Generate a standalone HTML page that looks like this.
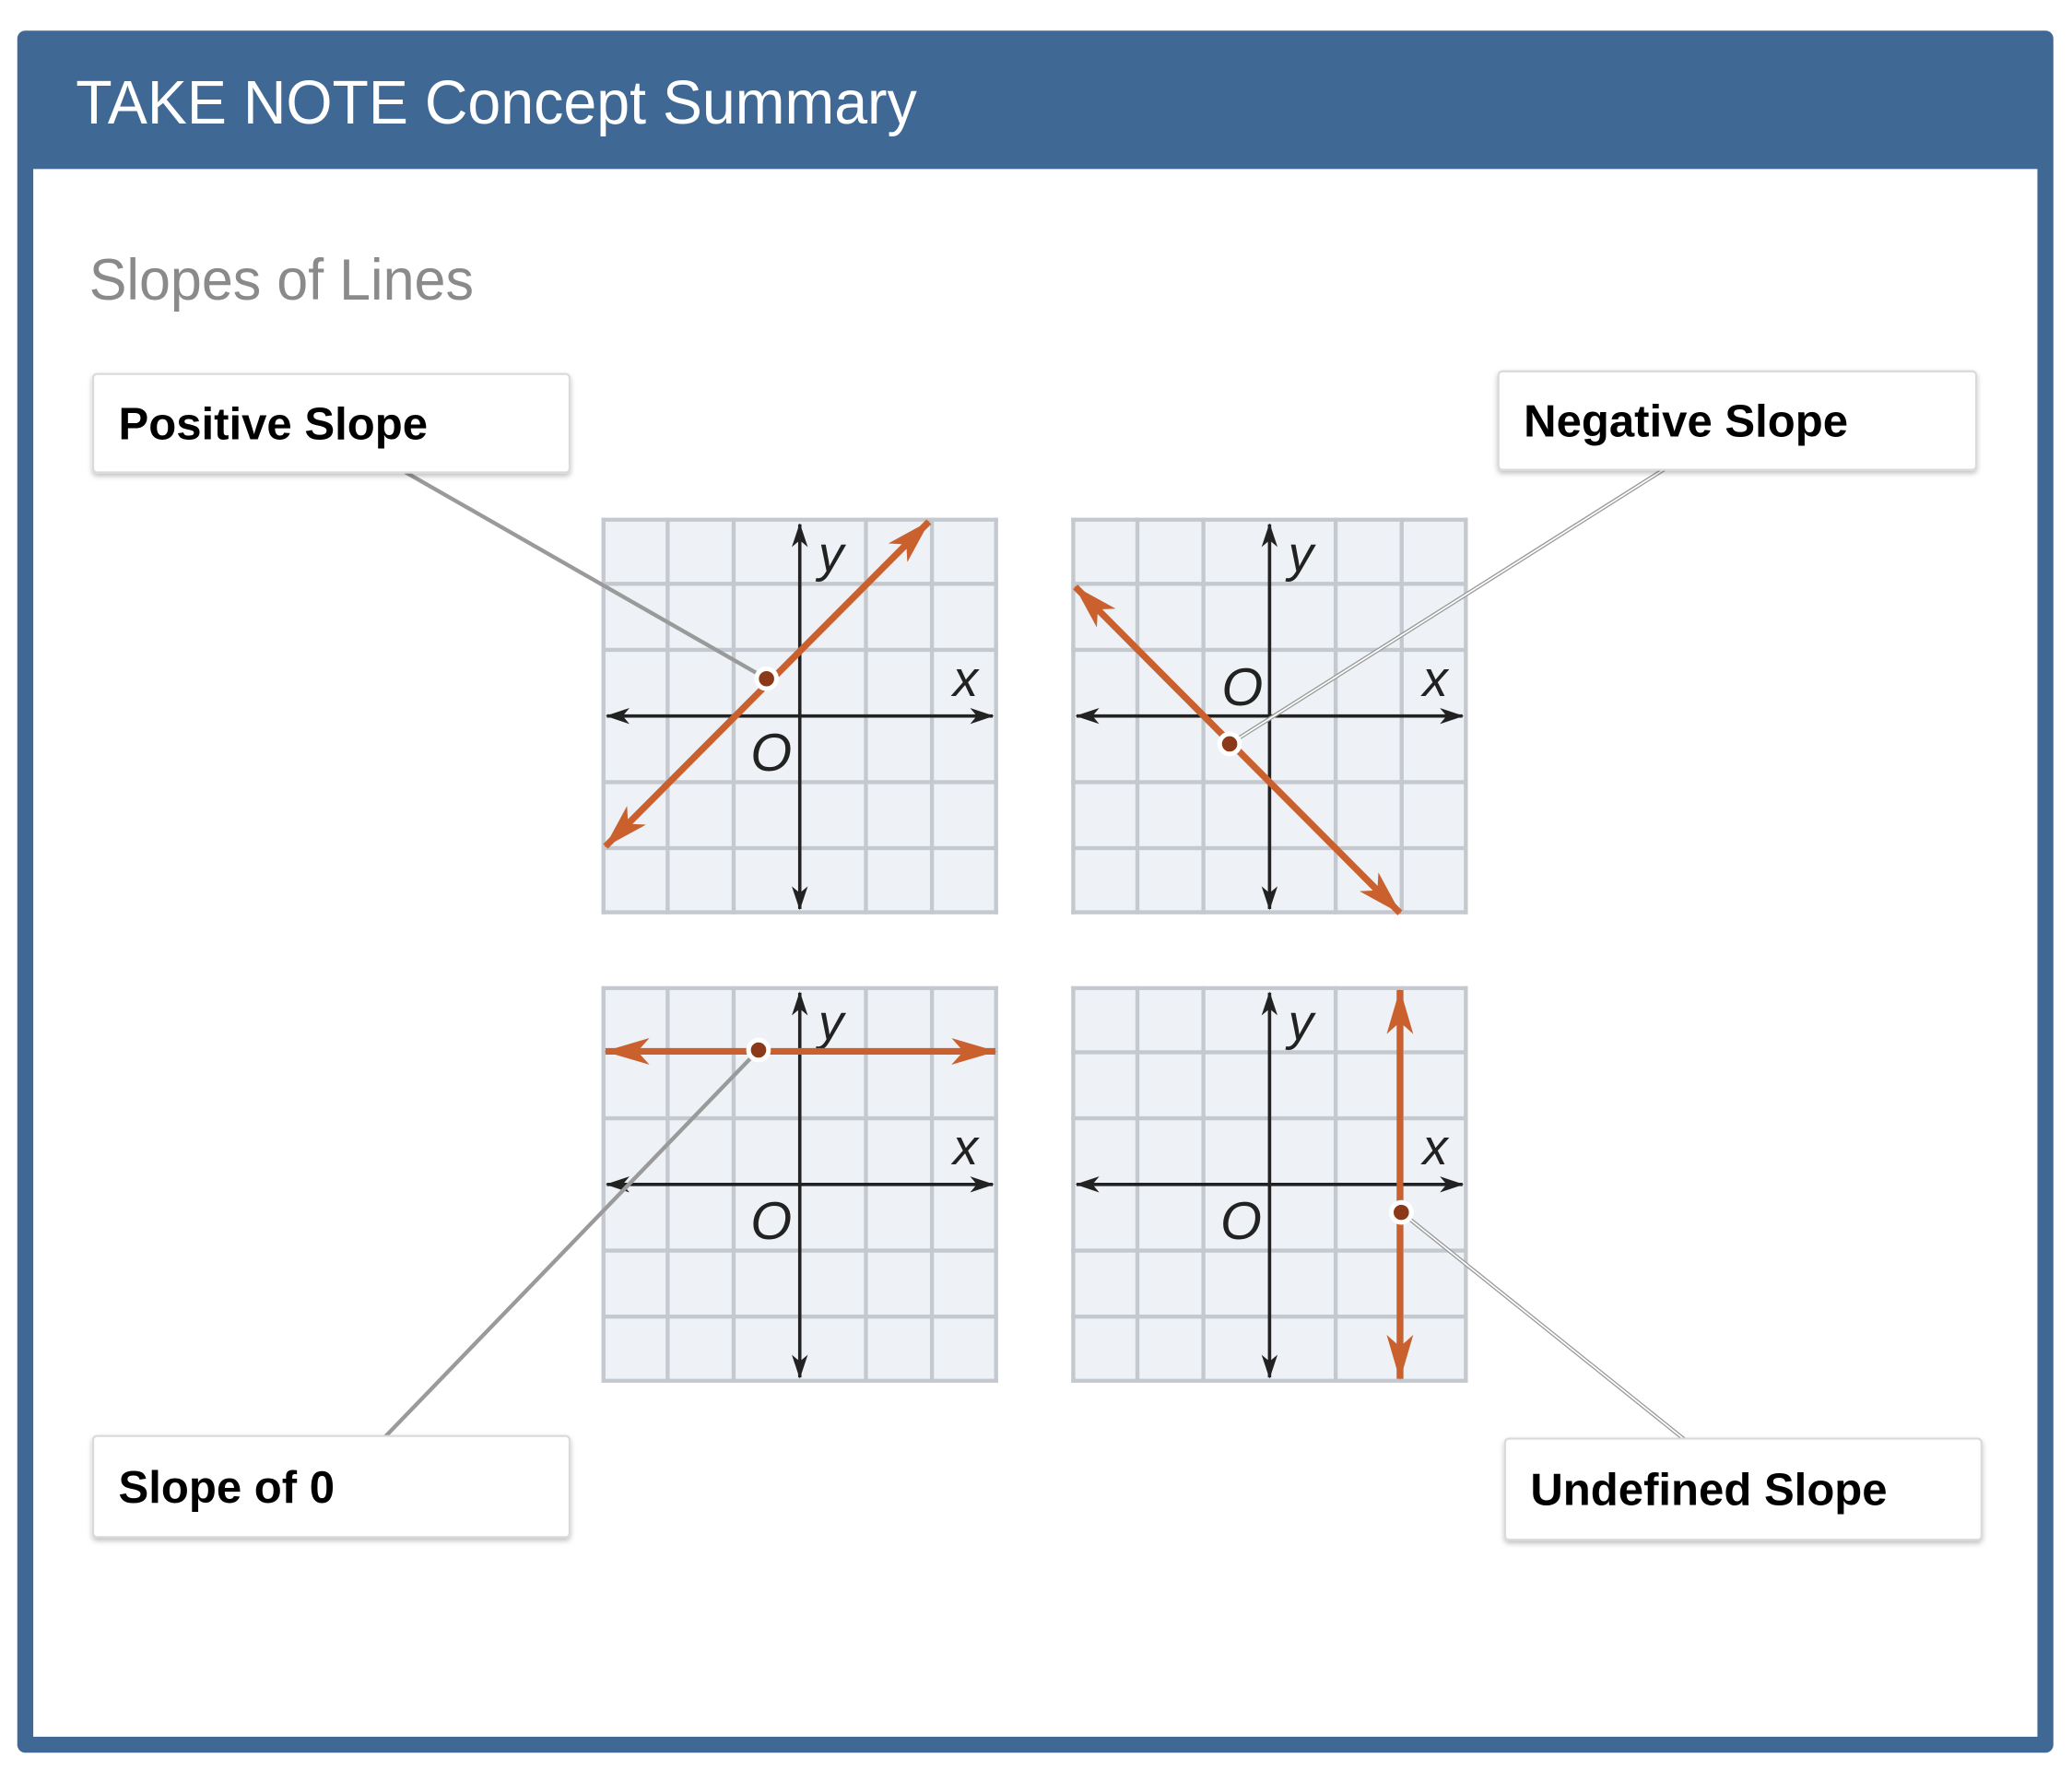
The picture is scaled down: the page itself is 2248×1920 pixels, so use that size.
<!DOCTYPE html>
<html><head><meta charset="utf-8"><style>
html,body{margin:0;padding:0;background:#fff;}
svg{display:block;}
</style></head><body>
<svg width="2248" height="1920" viewBox="0 0 1557 1330" preserveAspectRatio="none" xmlns="http://www.w3.org/2000/svg">
<defs>
<marker id="oa" viewBox="0 0 34 20" refX="33" refY="10" markerWidth="34" markerHeight="20" markerUnits="userSpaceOnUse" orient="auto-start-reverse">
<path d="M34,10 L0,0 L9,10 L0,20 Z" fill="#c9602e"/>
</marker>
<marker id="ba" viewBox="0 0 18 12" refX="17" refY="6" markerWidth="18" markerHeight="12" markerUnits="userSpaceOnUse" orient="auto-start-reverse">
<path d="M18,6 L0,0 L5,6 L0,12 Z" fill="#222"/>
</marker>
<filter id="sh" x="-5%" y="-10%" width="110%" height="130%">
<feDropShadow dx="0" dy="2" stdDeviation="2" flood-color="#000" flood-opacity="0.25"/>
</filter>
<g id="grid">
<rect x="0" y="0" width="298" height="298" fill="#eef1f5"/>
<g stroke="#c4c9cf" stroke-width="3">
<path d="M1.5,0V298M49.7,0V298M99.3,0V298M198.7,0V298M248.3,0V298M296.5,0V298"/>
<path d="M0,1.5H298M0,49.7H298M0,99.3H298M0,198.7H298M0,248.3H298M0,296.5H298"/>
</g>
<g stroke="#222" stroke-width="2.5" fill="none">
<line x1="149" y1="5" x2="149" y2="294" marker-start="url(#ba)" marker-end="url(#ba)"/>
<line x1="4" y1="149" x2="294" y2="149" marker-start="url(#ba)" marker-end="url(#ba)"/>
</g>
</g>
</defs>
<rect x="0" y="0" width="1557" height="1330" fill="#fff"/>
<rect x="13" y="23" width="1530" height="1294" rx="6" fill="#3f6895"/>
<rect x="25" y="127" width="1506" height="1178" fill="#fff"/>
<text x="57" y="93" font-family="Liberation Sans, sans-serif" font-size="46" fill="#fff" textLength="632" lengthAdjust="spacingAndGlyphs">TAKE NOTE Concept Summary</text>
<text x="67" y="225" font-family="Liberation Sans, sans-serif" font-size="44" fill="#8a8a8a" textLength="289" lengthAdjust="spacingAndGlyphs">Slopes of Lines</text>

<g transform="translate(452,389)">
<use href="#grid"/>
<text x="163" y="40" font-family="Liberation Sans, sans-serif" font-style="italic" font-size="38" fill="#222">y</text>
<text x="264" y="134" font-family="Liberation Sans, sans-serif" font-style="italic" font-size="38" fill="#222">x</text>
<text x="112" y="190" font-family="Liberation Sans, sans-serif" font-style="italic" font-size="40" fill="#222">O</text>
<line x1="3" y1="247" x2="246" y2="3" stroke="#c9602e" stroke-width="5" marker-start="url(#oa)" marker-end="url(#oa)"/>
</g>
<g transform="translate(805,389)">
<use href="#grid"/>
<text x="163" y="40" font-family="Liberation Sans, sans-serif" font-style="italic" font-size="38" fill="#222">y</text>
<text x="264" y="134" font-family="Liberation Sans, sans-serif" font-style="italic" font-size="38" fill="#222">x</text>
<text x="113" y="141" font-family="Liberation Sans, sans-serif" font-style="italic" font-size="40" fill="#222">O</text>
<line x1="3" y1="52" x2="247" y2="297" stroke="#c9602e" stroke-width="5" marker-start="url(#oa)" marker-end="url(#oa)"/>
</g>
<g transform="translate(452,741)">
<use href="#grid"/>
<text x="163" y="40" font-family="Liberation Sans, sans-serif" font-style="italic" font-size="38" fill="#222">y</text>
<text x="264" y="134" font-family="Liberation Sans, sans-serif" font-style="italic" font-size="38" fill="#222">x</text>
<text x="112" y="190" font-family="Liberation Sans, sans-serif" font-style="italic" font-size="40" fill="#222">O</text>
<line x1="3" y1="49" x2="296" y2="49" stroke="#c9602e" stroke-width="5" marker-start="url(#oa)" marker-end="url(#oa)"/>
</g>
<g transform="translate(805,741)">
<use href="#grid"/>
<text x="163" y="40" font-family="Liberation Sans, sans-serif" font-style="italic" font-size="38" fill="#222">y</text>
<text x="264" y="134" font-family="Liberation Sans, sans-serif" font-style="italic" font-size="38" fill="#222">x</text>
<text x="112" y="190" font-family="Liberation Sans, sans-serif" font-style="italic" font-size="40" fill="#222">O</text>
<line x1="247" y1="3" x2="247" y2="295" stroke="#c9602e" stroke-width="5" marker-start="url(#oa)" marker-end="url(#oa)"/>
</g>

<g fill="none" stroke-linecap="round">
<g stroke="#9a9a9a" stroke-width="3">
<line x1="305" y1="355" x2="576" y2="510"/>
<line x1="1250" y1="353" x2="924" y2="559"/>
<line x1="290" y1="1079" x2="570" y2="789"/>
<line x1="1265" y1="1081" x2="1053" y2="911"/>
</g>
<g stroke="#fff" stroke-width="1.2">
<line x1="1250" y1="353" x2="924" y2="559"/>
<line x1="1265" y1="1081" x2="1053" y2="911"/>
</g>
</g>
<g fill="#8a3a18" stroke="#fff" stroke-width="3.5">
<circle cx="576" cy="510" r="7.5"/>
<circle cx="924" cy="559" r="7.5"/>
<circle cx="570" cy="789" r="7.5"/>
<circle cx="1053" cy="911" r="7.5"/>
</g>

<g fill="#fff" stroke="#dadada" stroke-width="1.5" filter="url(#sh)">
<rect x="70" y="281" width="358" height="74" rx="3"/>
<rect x="1126" y="279" width="359" height="74" rx="3"/>
<rect x="70" y="1079" width="358" height="76" rx="3"/>
<rect x="1131" y="1081" width="358" height="76" rx="3"/>
</g>
<g font-family="Liberation Sans, sans-serif" font-weight="bold" font-size="34" fill="#000">
<text x="89" y="330">Positive Slope</text>
<text x="1145" y="328">Negative Slope</text>
<text x="89" y="1129">Slope of 0</text>
<text x="1150" y="1131">Undefined Slope</text>
</g>
</svg>
</body></html>
